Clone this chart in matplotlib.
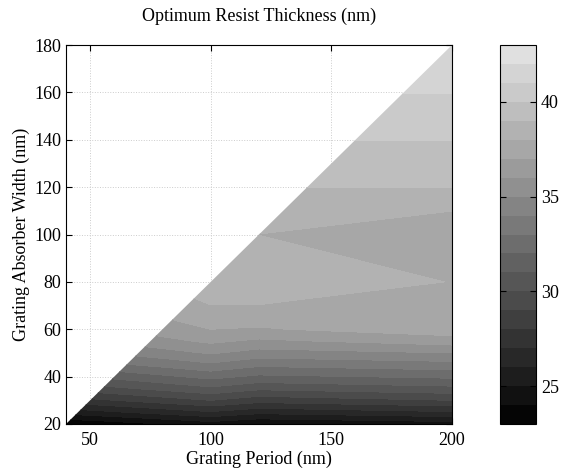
import numpy as np
import matplotlib.pyplot as plt
from matplotlib.colors import LinearSegmentedColormap
from matplotlib.patches import Polygon

plt.rcParams['font.family'] = ['Liberation Serif', 'DejaVu Serif']

# grating period (nm) - columns, absorber width (nm) - rows
period = [40, 50, 60, 70, 80, 90, 100, 120, 200]
width = [20, 25, 30, 35, 40, 45, 50, 55, 60, 70, 80, 100, 120, 140, 160, 180]

# optimum resist thickness (nm), one list per period
t_40 = [23.1, 25.4, 27.5, 29.3, 30.8, 32.3, 33.6, 34.7, 35.5, 36.5, 37.1, 36.8, 37.5, 38.5, 39.5, 40.5]
t_50 = [23.25, 25.65, 27.75, 29.55, 31.05, 32.55, 33.85, 34.95, 35.75, 36.73, 37.35, 37.05, 37.77, 38.77, 39.77, 40.75]
t_60 = [23.5, 25.9, 28.0, 29.8, 31.3, 32.8, 34.1, 35.2, 36.0, 36.98, 37.6, 37.3, 38.0, 39.0, 40.0, 41.0]
t_70 = [23.75, 26.15, 28.25, 30.05, 31.55, 33.05, 34.35, 35.45, 36.25, 37.23, 37.85, 37.55, 38.25, 39.25, 40.25, 41.25]
t_80 = [24.0, 26.4, 28.5, 30.3, 31.8, 33.3, 34.6, 35.7, 36.5, 37.48, 38.1, 37.8, 38.5, 39.5, 40.5, 41.5]
t_90 = [24.25, 26.65, 28.75, 30.55, 32.05, 33.55, 34.85, 35.95, 36.75, 37.73, 38.35, 38.05, 38.75, 39.75, 40.75, 41.75]
t_100 = [24.5, 26.9, 29.0, 30.8, 32.3, 33.8, 35.1, 36.2, 37.0, 37.98, 38.6, 38.3, 39.02, 40.02, 41.02, 41.9]
t_120 = [24.0, 26.3, 28.4, 30.2, 31.8, 33.2, 34.6, 35.8, 36.9, 37.98, 38.5, 37.99, 39.02, 40.02, 41.02, 41.9]
t_200 = [24.5, 26.9, 29.0, 30.7, 32.2, 33.6, 35.0, 36.5, 37.6, 37.8, 37.98, 37.0, 39.02, 40.02, 41.02, 41.9]

levels = list(range(23, 44))
cbar_ticks = [25, 30, 35, 40]

z = np.array([t_40, t_50, t_60, t_70, t_80, t_90, t_100, t_120, t_200]).T
x, y = np.meshgrid(period, width)

cmap = LinearSegmentedColormap.from_list('grey90', [(0, 0, 0), (0.9, 0.9, 0.9)])

fig = plt.figure(figsize=(5.63, 4.72), dpi=100)
ax = fig.add_axes([66 / 563, 48 / 472, 386 / 563, 379 / 472])

cs = ax.contourf(x, y, z, levels=levels, cmap=cmap, vmin=23, vmax=43)
# only the region with width <= period - 20 is valid
tri = Polygon([(40, 20), (200, 20), (200, 180)], closed=True,
              transform=ax.transData, facecolor='none', edgecolor='none')
ax.add_patch(tri)
cs.set_clip_path(tri)

ax.set_xlim(40, 200)
ax.set_ylim(20, 180)
ax.set_xticks([50, 100, 150, 200])
ax.set_yticks(range(20, 181, 20))
ax.set_axisbelow(True)
ax.grid(True, linestyle=':', color='0.8', linewidth=0.7)
ax.tick_params(direction='in', top=True, right=True, length=4, labelsize=13)
ax.tick_params(axis='x', pad=6)
for s in ax.spines.values():
    s.set_linewidth(0.8)

ax.set_title('Optimum Resist Thickness (nm)', fontsize=13, pad=17)
ax.set_xlabel('Grating Period (nm)', fontsize=13, labelpad=1)
ax.set_ylabel('Grating Absorber Width (nm)', fontsize=13, labelpad=3)

cax = fig.add_axes([500 / 563, 48 / 472, 36 / 563, 379 / 472])
cb = fig.colorbar(cs, cax=cax, ticks=cbar_ticks)
cb.ax.tick_params(direction='in', left=True, right=True, length=4, labelsize=13)
cb.outline.set_linewidth(0.8)

plt.savefig('out.png', dpi=100)
